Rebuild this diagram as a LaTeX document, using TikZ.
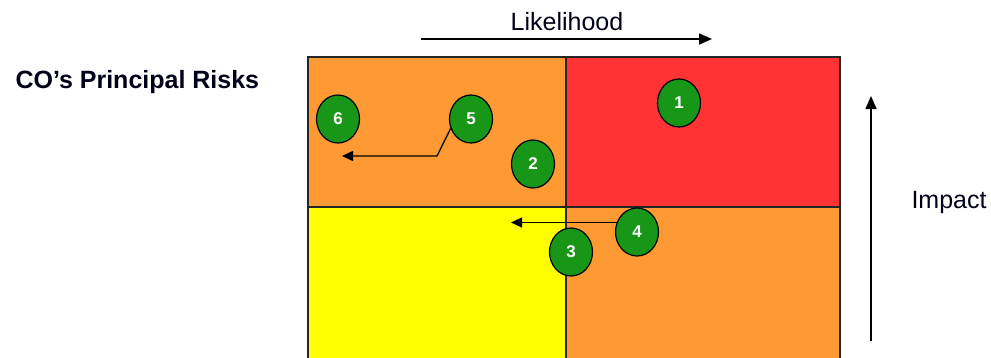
\documentclass[tikz,border=0pt]{standalone}
\usepackage{fontspec}
\setmainfont{Liberation Sans}
\usetikzlibrary{arrows.meta,shapes.geometric}
\definecolor{riskorange}{RGB}{255,153,51}
\definecolor{riskred}{RGB}{255,51,51}
\definecolor{riskyellow}{RGB}{255,255,0}
\definecolor{riskgreen}{RGB}{24,150,24}
\tikzset{
  cell/.style={draw=black!85, line width=1.6pt},
  risk/.style={ellipse, draw=black, line width=1.2pt, fill=riskgreen,
    minimum width=43pt, minimum height=48pt, inner sep=0pt,
    text=white, font=\fontsize{17}{17}\selectfont\bfseries},
  axis/.style={line width=1.6pt, -{Triangle[length=13pt,width=11pt]}},
  move/.style={line width=1.3pt, -{Triangle[length=11pt,width=10pt]}},
  label/.style={font=\fontsize{25}{25}\selectfont, text=black!90!blue}
}
\begin{document}
\begin{tikzpicture}[x=1pt,y=-1pt]
  \useasboundingbox (0,0) rectangle (991,357);
  \clip (0,0) rectangle (991,357);
  % quadrants of the risk matrix
  \fill[riskorange] (308,57) rectangle (566,207);
  \fill[riskred] (566,57) rectangle (840,207);
  \fill[riskyellow] (308,207) rectangle (566,400);
  \fill[riskorange] (566,207) rectangle (840,400);
  \draw[cell] (308,57) rectangle (840,400);
  \draw[cell] (566,57) -- (566,400);
  \draw[cell] (308,207) -- (840,207);
  % headings and axes
  \node[label, font=\fontsize{25}{25}\selectfont\bfseries, anchor=west] (title) at (12,82) {CO’s Principal Risks};
  \node[label] (lik) at (567,22) {Likelihood};
  \coordinate (lik0) at (421,39);
  \coordinate (lik1) at (712,39);
  \draw[axis] (lik0) -- (lik1);
  \node[label, anchor=west] (imp) at (908,202) {Impact};
  \coordinate (imp0) at (871,341);
  \coordinate (imp1) at (871,96);
  \draw[axis] (imp0) -- (imp1);
  % numbered risks
  \node[risk] (r1) at (679,103) {1};
  \node[risk] (r2) at (533,164) {2};
  \node[risk] (r3) at (571,252) {3};
  \node[risk] (r4) at (637,232) {4};
  \node[risk] (r5) at (471,119) {5};
  \node[risk] (r6) at (338,119) {6};
  % movement arrows
  \coordinate (k5) at (437,156);
  \coordinate (t5) at (342,156);
  \coordinate (t4) at (511,0);
  \draw[move] (r5.205) -- (k5) -- (t5);
  \draw[move] (r4.155) -- (r4.155 -| t4);
\end{tikzpicture}
\end{document}
